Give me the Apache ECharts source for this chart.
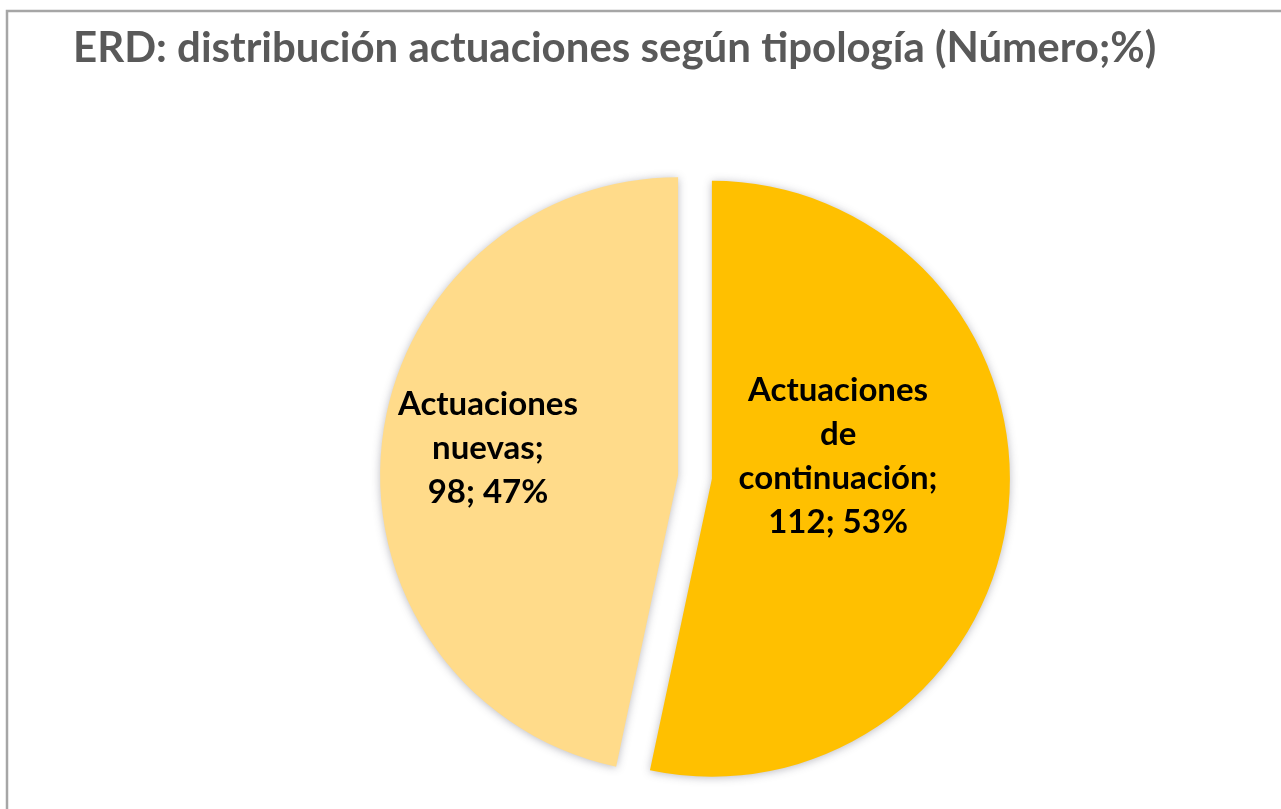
<!DOCTYPE html>
<html>
<head>
<meta charset="utf-8">
<script src="https://cdn.jsdelivr.net/npm/echarts@6/dist/echarts.min.js"></script>
<style>
  html, body { margin: 0; padding: 0; background: #fff; }
  #chart { width: 1281px; height: 809px; }
</style>
</head>
<body>
<div id="chart"></div>
<script>
// datos del gráfico
const categories = ['Actuaciones de continuación', 'Actuaciones nuevas'];
const values = [112, 98];
const colors = ['#FFC000', '#FFDB8A'];

// desplazamiento de las etiquetas respecto a la posición por defecto
const labelShift = [[-25, -38], [-39, -11]];

const chart = echarts.init(document.getElementById('chart'));

const option = {
    backgroundColor: '#fff',
    animation: false,
    title: {
        text: 'ERD: distribución actuaciones según tipología (Número;%)',
        left: 68,
        top: 22,
        textStyle: {
            fontFamily: 'Lato',
            fontWeight: 'bold',
            fontSize: 42,
            color: '#595959'
        }
    },
    graphic: [{
        type: 'rect',
        shape: { x: 7, y: 11, width: 1400, height: 900 },
        style: { fill: 'none', stroke: '#A6A6A6', lineWidth: 2.5 },
        silent: true
    }],
    series: [{
        type: 'pie',
        center: [695, 477],
        radius: 298,
        startAngle: 90,
        clockwise: true,
        selectedMode: 'multiple',
        selectedOffset: 17,
        itemStyle: {
            shadowBlur: 8,
            shadowColor: 'rgba(60,60,80,0.35)',
            shadowOffsetY: 1
        },
        label: {
            position: 'inside',
            fontFamily: 'Lato',
            fontWeight: 'bold',
            fontSize: 33,
            lineHeight: 44,
            color: '#000',
            align: 'center',
            formatter: (p) => p.name.split(' ').join('\n') + ';\n' + p.value + '; ' + Math.round(p.percent) + '%'
        },
        labelLine: { show: false },
        labelLayout: (params) => ({
            dx: labelShift[params.dataIndex][0],
            dy: labelShift[params.dataIndex][1]
        }),
        emphasis: { disabled: true },
        data: categories.map((name, i) => ({
            name,
            value: values[i],
            selected: true,
            itemStyle: { color: colors[i] }
        }))
    }]
};

chart.setOption(option);
</script>
</body>
</html>
